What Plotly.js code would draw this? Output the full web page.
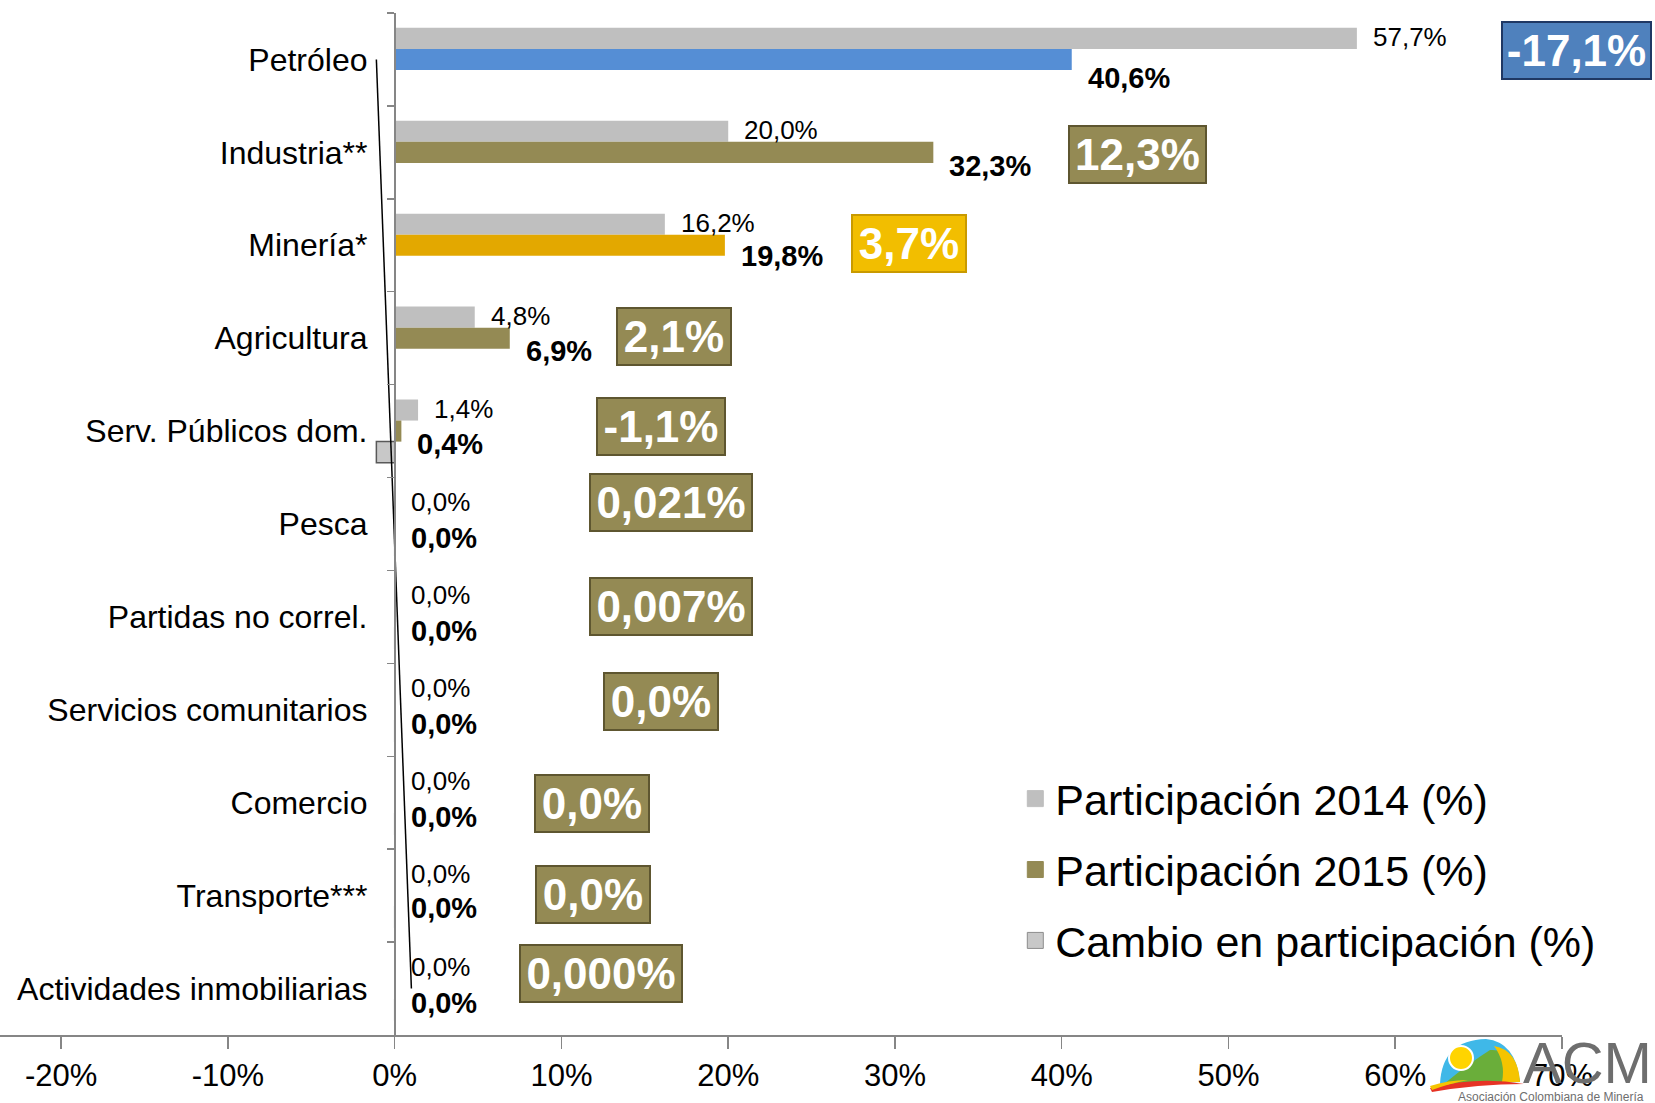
<!DOCTYPE html>
<html>
<head>
<meta charset="utf-8">
<script src="https://cdn.plot.ly/plotly-3.0.1.min.js"></script>
<style>
  html, body { margin: 0; padding: 0; background: #fff; }
  #chart { width: 1655px; height: 1103px; }
</style>
</head>
<body>
<div id="chart"></div>
<script>
// categorias de arriba hacia abajo
const categorias = [
    'Petróleo', 'Industria**', 'Minería*', 'Agricultura', 'Serv. Públicos dom.',
    'Pesca', 'Partidas no correl.', 'Servicios comunitarios', 'Comercio',
    'Transporte***', 'Actividades inmobiliarias'
];
const part2014 = [57.7, 20.0, 16.2, 4.8, 1.4, 0, 0, 0, 0, 0, 0];
const part2015 = [40.6, 32.3, 19.8, 6.9, 0.4, 0, 0, 0, 0, 0, 0];
const cambio   = [-17.1, 12.3, 3.7, 2.1, -1.1, 0.021, 0.007, 0.004, 0.003, 0.002, 0.0004];
const cambioTexto = ['-17,1%', '12,3%', '3,7%', '2,1%', '-1,1%', '0,021%', '0,007%', '0,0%', '0,0%', '0,0%', '0,000%'];
const lineaX = [-1.1, 1.0];
const lineaY = ['Petróleo', 'Actividades inmobiliarias'];
const xTickVals = [-20, -10, 0, 10, 20, 30, 40, 50, 60, 70];
const xTickText = ['-20%', '-10%', '0%', '10%', '20%', '30%', '40%', '50%', '60%', '70%'];

// estilos / posiciones de las cajas de cambio
const GRIS   = '#BFBFBF';
const OLIVA  = '#948A54';
const AZUL   = '#558ED5';
const ORO    = '#E3A800';
const color2015 = [AZUL, OLIVA, ORO, OLIVA, OLIVA, OLIVA, OLIVA, OLIVA, OLIVA, OLIVA, OLIVA];
const opacCambio = [0, 0, 0, 0, 1, 1, 1, 1, 1, 1, 1];
const cajaPx = [1576, 1137, 909, 674, 661, 671, 671, 661, 592, 593, 601];   // centro, px
const cajaW  = [151, 139, 116, 116, 130, 164, 164, 116, 116, 116, 164];
const cajaDy = [9, -2, 2, 2, 5, 22, 10, 8, -1, 1, 15];
const cajaFondo = ['#4F81BD', OLIVA, '#F2BE00', OLIVA, OLIVA, OLIVA, OLIVA, OLIVA, OLIVA, OLIVA, OLIVA];
const cajaBorde = ['#1F3864', '#5E5630', '#C99A00', '#5E5630', '#5E5630', '#5E5630', '#5E5630', '#5E5630', '#5E5630', '#5E5630', '#5E5630'];
const dy2015 = [-19, -14, -11, -13, -13, -14, -14, -14, -14, -12, -14];

const SANS = '"Liberation Sans", Arial, sans-serif';

const fmt = v => v.toFixed(1).replace('.', ',') + '%';
const rev = a => a.slice().reverse();

const PW = 1562, PH = 1022, PT = 13;
const px = x => x / PW;
const py = y => (PT + PH - y) / PH;

const traces = [
    {
        type: 'bar', orientation: 'h', name: 'Participación 2014 (%)',
        x: rev(part2014), y: rev(categorias),
        marker: { color: GRIS }, showlegend: false, hoverinfo: 'skip'
    },
    {
        type: 'bar', orientation: 'h', name: 'Participación 2015 (%)',
        x: rev(part2015), y: rev(categorias),
        marker: { color: rev(color2015) }, showlegend: false, hoverinfo: 'skip'
    },
    {
        type: 'bar', orientation: 'h', name: 'Cambio en participación (%)',
        x: rev(cambio), y: rev(categorias),
        marker: { color: '#C8C8C8', opacity: rev(opacCambio), line: { color: '#595959', width: 1.5 } },
        showlegend: false, hoverinfo: 'skip'
    },
    {
        type: 'scatter', mode: 'lines', x: lineaX, y: lineaY,
        line: { color: '#000', width: 1.5 }, showlegend: false, hoverinfo: 'skip'
    }
];

// entradas de la leyenda (marcadores cuadrados)
[
    ['Participación 2014 (%)', GRIS, GRIS],
    ['Participación 2015 (%)', OLIVA, OLIVA],
    ['Cambio en participación (%)', '#C8C8C8', '#8C8C8C']
].forEach(([nombre, fill, borde], k) => {
    traces.push({
        type: 'scatter', mode: 'markers', name: nombre, x: [null], y: [null],
        marker: { symbol: 'square', size: 16, color: fill, line: { color: borde, width: 1 } },
        legendgroup: 'g' + k, hoverinfo: 'skip'
    });
});

const annotations = [];
categorias.forEach((c, i) => {
    annotations.push({
        x: part2014[i], y: c, text: fmt(part2014[i]), showarrow: false,
        xanchor: 'left', yanchor: 'middle', xshift: 14, yshift: 22,
        font: { family: SANS, size: 26, color: '#000' }
    });
    annotations.push({
        x: part2015[i], y: c, text: '<b>' + fmt(part2015[i]) + '</b>', showarrow: false,
        xanchor: 'left', yanchor: 'middle', xshift: 14, yshift: dy2015[i],
        font: { family: SANS, size: 29, color: '#000' }
    });
    annotations.push({
        xref: 'paper', x: px(cajaPx[i]), y: c, text: '<b>' + cambioTexto[i] + '</b>', showarrow: false,
        xanchor: 'center', yanchor: 'middle', yshift: cajaDy[i],
        width: cajaW[i] - 6, height: 53, borderpad: 1, borderwidth: 2,
        bgcolor: cajaFondo[i], bordercolor: cajaBorde[i],
        font: { family: SANS, size: 44, color: '#fff' }
    });
});

// logo ACM (esquina inferior derecha)
annotations.push({
    xref: 'paper', yref: 'paper', x: px(1521), y: py(1062), xanchor: 'left', yanchor: 'middle',
    text: 'ACM', showarrow: false, font: { family: SANS, size: 58, color: '#6E6E6E' }
});
annotations.push({
    xref: 'paper', yref: 'paper', x: px(1456), y: py(1097), xanchor: 'left', yanchor: 'middle',
    text: 'Asociación Colombiana de Minería', showarrow: false,
    font: { family: SANS, size: 12, color: '#6E6E6E' }
});
const logoSvg =
    '<svg xmlns="http://www.w3.org/2000/svg" viewBox="0 0 100 60">' +
    '<path d="M12,50 Q14,6 58,5 Q88,8 92,48 Z" fill="#3FB8E8"/>' +
    '<path d="M16,50 Q40,30 62,16 Q86,14 92,48 Z" fill="#6AAE3A"/>' +
    '<path d="M66,12 Q90,16 92,48 L74,48 Q78,28 66,12 Z" fill="#F5C400"/>' +
    '<circle cx="33" cy="24" r="12" fill="#FFD400" stroke="#fff" stroke-width="2"/>' +
    '<path d="M2,54 Q50,42 96,50 Q50,50 4,58 Z" fill="#E63325"/>' +
    '<path d="M2,52 Q20,46 40,46 Q20,50 4,56 Z" fill="#F5C400"/>' +
    '</svg>';

const layout = {
    width: 1655, height: 1103,
    margin: { l: 0, r: 93, t: 13, b: 68 },
    paper_bgcolor: '#fff', plot_bgcolor: '#fff',
    barmode: 'group', bargap: 0.32, bargroupgap: 0,
    showlegend: true,
    legend: {
        x: 0.65, y: 0.265, xanchor: 'left', yanchor: 'top',
        traceorder: 'grouped', tracegroupgap: 12,
        font: { family: SANS, size: 43, color: '#000' },
        bgcolor: 'rgba(0,0,0,0)'
    },
    xaxis: {
        range: [-23.67, 70], tickvals: xTickVals, ticktext: xTickText,
        showgrid: false, zeroline: false,
        showline: true, linecolor: '#868686', linewidth: 2,
        ticks: 'outside', ticklen: 12, tickcolor: '#868686', tickwidth: 1.5,
        tickfont: { family: SANS, size: 31, color: '#000' }
    },
    yaxis: {
        type: 'category', categoryorder: 'array', categoryarray: categorias,
        range: [10.5, -0.5], anchor: 'free', position: 0.2528,
        showgrid: false, zeroline: false,
        showline: true, linecolor: '#868686', linewidth: 2,
        ticks: 'outside', ticklen: 7, tickcolor: '#868686', tickwidth: 1.5,
        tickson: 'boundaries', ticklabelstandoff: 20,
        tickfont: { family: SANS, size: 32, color: '#000' }
    },
    annotations: annotations,
    images: [{
        source: 'data:image/svg+xml;charset=utf-8,' + encodeURIComponent(logoSvg),
        xref: 'paper', yref: 'paper', x: px(1428), y: py(1034),
        sizex: px(1528) - px(1428), sizey: py(1034) - py(1094),
        xanchor: 'left', yanchor: 'top', sizing: 'stretch', layer: 'below'
    }]
};

Plotly.newPlot('chart', traces, layout, { displayModeBar: false, staticPlot: true });
</script>
</body>
</html>
